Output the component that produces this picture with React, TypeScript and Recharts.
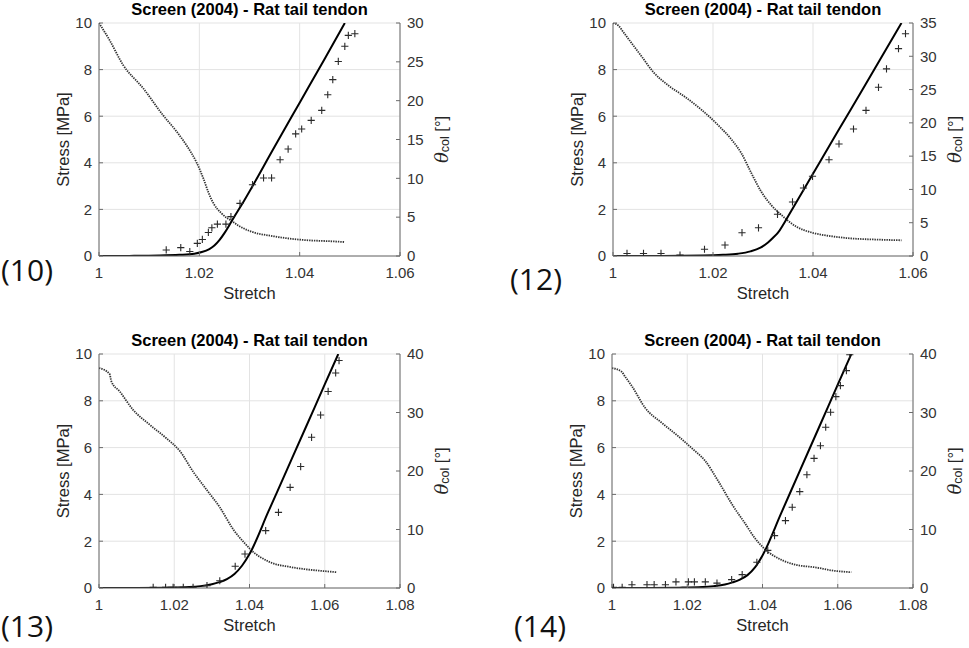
import React from 'react';
import { ComposedChart, Line, Scatter, XAxis, YAxis, CartesianGrid } from 'recharts';

type Pair = [number, number];

// ---------- data (stretch, value) ----------
const p10Model: Pair[] = [[1, 0], [1.006, 0.005], [1.012, 0.02], [1.016, 0.05], [1.019, 0.1], [1.0205, 0.17], [1.022, 0.3], [1.023, 0.45], [1.024, 0.68], [1.025, 0.98], [1.026, 1.33], [1.027, 1.7], [1.0281, 2.08], [1.035, 4.69], [1.04, 6.58], [1.045, 8.47], [1.049, 10]];
const p10Exp: Pair[] = [[1.0134, 0.26], [1.0163, 0.36], [1.0181, 0.19], [1.0196, 0.54], [1.0206, 0.71], [1.0218, 1.01], [1.0225, 1.21], [1.0236, 1.37], [1.0253, 1.37], [1.0263, 1.69], [1.0281, 2.26], [1.0306, 3.06], [1.0328, 3.35], [1.0344, 3.35], [1.0361, 4.13], [1.0377, 4.59], [1.0392, 5.24], [1.0404, 5.45], [1.0423, 5.82], [1.0444, 6.25], [1.0456, 6.92], [1.0466, 7.57], [1.0477, 8.35], [1.049, 9.0], [1.0497, 9.47], [1.051, 9.54]];
const p10Theta: Pair[] = [[1.0, 30], [1.0021, 27.8], [1.0048, 24.6], [1.0088, 21.6], [1.0128, 18.1], [1.0155, 16.0], [1.0175, 14.2], [1.0194, 12.1], [1.0208, 10.0], [1.0218, 8.2], [1.0228, 6.8], [1.0244, 5.5], [1.0267, 4.4], [1.0281, 3.8], [1.0301, 3.2], [1.0348, 2.54], [1.0401, 2.1], [1.0467, 1.88], [1.049, 1.8]];

const p12Model: Pair[] = [[1, 0], [1.01, 0.005], [1.018, 0.02], [1.022, 0.05], [1.025, 0.1], [1.0275, 0.2], [1.0295, 0.36], [1.031, 0.58], [1.032, 0.78], [1.033, 1.0], [1.034, 1.33], [1.035, 1.7], [1.04, 3.53], [1.045, 5.36], [1.05, 7.18], [1.0577, 10]];
const p12Exp: Pair[] = [[1.0028, 0.11], [1.0061, 0.11], [1.0096, 0.11], [1.0134, 0.04], [1.0183, 0.29], [1.0224, 0.47], [1.0258, 1.0], [1.0291, 1.21], [1.0329, 1.79], [1.0359, 2.32], [1.0381, 2.92], [1.0399, 3.42], [1.0432, 4.13], [1.0452, 4.81], [1.0481, 5.45], [1.0506, 6.25], [1.0531, 7.24], [1.0547, 8.03], [1.0571, 8.9], [1.0585, 9.54]];
const p12Theta: Pair[] = [[1.0, 35], [1.0011, 34.6], [1.0021, 33.6], [1.0038, 31.9], [1.0058, 29.9], [1.0081, 27.6], [1.0111, 25.6], [1.0144, 23.9], [1.0178, 21.9], [1.0211, 19.6], [1.0238, 17.4], [1.0257, 15.4], [1.0277, 12.4], [1.0297, 9.6], [1.0317, 7.6], [1.0334, 6.35], [1.0367, 4.4], [1.0401, 3.45], [1.0434, 3.0], [1.0467, 2.7], [1.0534, 2.45], [1.0577, 2.36]];

const p13Model: Pair[] = [[1, 0], [1.01, 0.005], [1.018, 0.015], [1.024, 0.04], [1.027, 0.08], [1.03, 0.16], [1.032, 0.25], [1.034, 0.38], [1.036, 0.6], [1.038, 0.95], [1.04, 1.45], [1.045, 3.26], [1.05, 5.07], [1.055, 6.88], [1.06, 8.7], [1.0636, 10]];
const p13Exp: Pair[] = [[1.0144, 0.03], [1.0177, 0.03], [1.0197, 0.03], [1.0224, 0.03], [1.025, 0.03], [1.0287, 0.1], [1.0321, 0.31], [1.0362, 0.93], [1.0388, 1.45], [1.0443, 2.45], [1.0477, 3.23], [1.0508, 4.3], [1.0536, 5.19], [1.0565, 6.44], [1.0589, 7.39], [1.0609, 8.4], [1.0629, 9.19], [1.0638, 9.72]];
const p13Theta: Pair[] = [[1.0, 37.6], [1.0028, 36.6], [1.0033, 35.3], [1.0055, 33.6], [1.009, 30.5], [1.0135, 27.9], [1.0179, 25.6], [1.0215, 23.4], [1.025, 19.9], [1.0286, 16.8], [1.0321, 13.8], [1.0357, 10.0], [1.0388, 7.6], [1.0401, 6.7], [1.0455, 4.4], [1.0507, 3.6], [1.0543, 3.25], [1.0596, 2.9], [1.0632, 2.7]];

const p14Model: Pair[] = [[1, 0], [1.01, 0.005], [1.018, 0.015], [1.024, 0.04], [1.027, 0.08], [1.03, 0.15], [1.032, 0.24], [1.034, 0.36], [1.036, 0.55], [1.038, 0.88], [1.04, 1.39], [1.045, 3.21], [1.05, 5.04], [1.055, 6.86], [1.06, 8.69], [1.0636, 10]];
const p14Exp: Pair[] = [[1.0004, 0.03], [1.0027, 0.03], [1.0053, 0.14], [1.0093, 0.14], [1.0112, 0.14], [1.0142, 0.14], [1.017, 0.26], [1.0203, 0.26], [1.0219, 0.26], [1.0248, 0.26], [1.0279, 0.21], [1.0318, 0.36], [1.0346, 0.57], [1.0385, 1.1], [1.0414, 1.61], [1.0432, 2.24], [1.0461, 2.88], [1.0479, 3.45], [1.0499, 4.12], [1.0518, 4.84], [1.0537, 5.54], [1.0554, 6.08], [1.0568, 6.87], [1.0581, 7.51], [1.0595, 8.18], [1.0607, 8.65], [1.0623, 9.29], [1.0632, 9.97]];
const p14Theta: Pair[] = [[1.0, 37.6], [1.0025, 37.0], [1.0034, 36.2], [1.0053, 34.5], [1.0088, 30.8], [1.0133, 28.2], [1.0177, 25.9], [1.0212, 23.9], [1.0248, 21.7], [1.0283, 18.2], [1.0322, 14.0], [1.0354, 11.0], [1.038, 8.5], [1.0406, 6.67], [1.0455, 4.67], [1.0486, 4.0], [1.0543, 3.5], [1.0584, 3.0], [1.0636, 2.7]];

const xTicksTop = [1, 1.02, 1.04, 1.06];
const xTicksBottom = [1, 1.02, 1.04, 1.06, 1.08];
const stressTicks = [0, 2, 4, 6, 8, 10];
const thetaTicks10 = [0, 5, 10, 15, 20, 25, 30];
const thetaTicks12 = [0, 5, 10, 15, 20, 25, 30, 35];
const thetaTicks13 = [0, 10, 20, 30, 40];

const titleText = 'Screen (2004) - Rat tail tendon';
const panelNames = ['(10)', '(12)', '(13)', '(14)'];

// ---------- helpers ----------
const toRows = (pairs: Pair[]) => pairs.map(([x, y]) => ({ x, y }));
const fmtX = (v: number) => String(Number(v.toFixed(2)));

const SANS = '"Liberation Sans", Arial, Helvetica, sans-serif';
const AXIS = '#6b6b6b';
const TXT = '#262626';

const PlusShape = (props: any) => {
  const { cx, cy } = props;
  if (cx == null || cy == null) return null;
  const h = 3.6;
  return (
    <path
      d={`M${cx - h},${cy}H${cx + h}M${cx},${cy - h}V${cy + h}`}
      stroke="#2a2a2a"
      strokeWidth={1.1}
      fill="none"
    />
  );
};

const LeftLabel = (props: any) => {
  const vb = props.viewBox || {};
  const cx = vb.x + vb.width - 36;
  const cy = vb.y + vb.height / 2;
  return (
    <text x={cx} y={cy} transform={`rotate(-90 ${cx} ${cy})`} textAnchor="middle" dominantBaseline="central" fontSize={16.5} fill={TXT} fontFamily={SANS}>
      Stress [MPa]
    </text>
  );
};

const RightLabel = (props: any) => {
  const vb = props.viewBox || {};
  const cx = vb.x + 41;
  const cy = vb.y + vb.height / 2;
  return (
    <text x={cx} y={cy} transform={`rotate(-90 ${cx} ${cy})`} textAnchor="middle" dominantBaseline="central" fontSize={16.5} fill={TXT} fontFamily={SANS}>
      <tspan fontStyle="italic" fontFamily='"DejaVu Serif", "Liberation Serif", serif' fontSize={18}>θ</tspan>
      <tspan fontSize={12.5} dy={4}>col</tspan>
      <tspan dy={-4}> [°]</tspan>
    </text>
  );
};

const BottomLabel = (props: any) => {
  const vb = props.viewBox || {};
  const cx = vb.x + vb.width / 2;
  const cy = vb.y + 37;
  return (
    <text x={cx} y={cy} textAnchor="middle" dominantBaseline="central" fontSize={16.5} fill={TXT} fontFamily={SANS}>
      Stretch
    </text>
  );
};

type PanelProps = {
  left: number;
  top: number;
  width: number;
  height: number;
  margin: { top: number; right: number; bottom: number; left: number };
  model: Pair[];
  exp: Pair[];
  theta: Pair[];
  xTicks: number[];
  thetaTicks: number[];
};

const tickStyle = { fontSize: 15, fill: '#333', fontFamily: SANS };

const Panel = (p: PanelProps) => {
  const xMax = p.xTicks[p.xTicks.length - 1];
  const tMax = p.thetaTicks[p.thetaTicks.length - 1];
  return (
    <div style={{ position: 'absolute', left: p.left, top: p.top, width: p.width, height: p.height }}>
      <ComposedChart width={p.width} height={p.height} margin={p.margin}>
        <CartesianGrid yAxisId="left" stroke="#e3e3e3" strokeWidth={1} />
        <XAxis
          type="number"
          dataKey="x"
          domain={[1, xMax]}
          ticks={p.xTicks}
          interval={0}
          allowDataOverflow
          tickFormatter={fmtX}
          height={30}
          tickSize={-4}
          tickMargin={15}
          tick={tickStyle}
          axisLine={{ stroke: AXIS }}
          tickLine={{ stroke: AXIS }}
          label={<BottomLabel />}
        />
        <YAxis
          yAxisId="left"
          type="number"
          domain={[0, 10]}
          ticks={stressTicks}
          interval={0}
          allowDataOverflow
          width={40}
          tickSize={-4}
          tickMargin={11}
          tick={tickStyle}
          axisLine={{ stroke: AXIS }}
          tickLine={{ stroke: AXIS }}
          label={<LeftLabel />}
        />
        <YAxis
          yAxisId="right"
          orientation="right"
          type="number"
          domain={[0, tMax]}
          ticks={p.thetaTicks}
          interval={0}
          allowDataOverflow
          width={40}
          tickSize={-4}
          tickMargin={11}
          tick={tickStyle}
          axisLine={{ stroke: AXIS }}
          tickLine={{ stroke: AXIS }}
          label={<RightLabel />}
        />
        <Line
          yAxisId="right"
          data={toRows(p.theta)}
          dataKey="y"
          type="monotone"
          stroke="#333"
          strokeWidth={1.8}
          strokeDasharray="1.4 1"
          dot={false}
          activeDot={false}
          isAnimationActive={false}
        />
        <Line
          yAxisId="left"
          data={toRows(p.model)}
          dataKey="y"
          type="monotone"
          stroke="#000"
          strokeWidth={2}
          dot={false}
          activeDot={false}
          isAnimationActive={false}
        />
        <Scatter
          yAxisId="left"
          data={toRows(p.exp)}
          dataKey="y"
          shape={PlusShape}
          isAnimationActive={false}
        />
      </ComposedChart>
    </div>
  );
};

const panels = [
  { left: 0, top: 0, width: 484, height: 320, margin: { top: 23, left: 59, right: 44, bottom: 34 }, model: p10Model, exp: p10Exp, theta: p10Theta, xTicks: xTicksTop, thetaTicks: thetaTicks10 },
  { left: 485, top: 0, width: 484, height: 320, margin: { top: 23, left: 88, right: 16, bottom: 34 }, model: p12Model, exp: p12Exp, theta: p12Theta, xTicks: xTicksTop, thetaTicks: thetaTicks12 },
  { left: 0, top: 325, width: 484, height: 323, margin: { top: 29, left: 59, right: 44, bottom: 30 }, model: p13Model, exp: p13Exp, theta: p13Theta, xTicks: xTicksBottom, thetaTicks: thetaTicks13 },
  { left: 485, top: 325, width: 484, height: 323, margin: { top: 29, left: 87, right: 16, bottom: 30 }, model: p14Model, exp: p14Exp, theta: p14Theta, xTicks: xTicksBottom, thetaTicks: thetaTicks13 },
];

const titlePos = [
  { x: 249.5, y: 9 },
  { x: 763, y: 9 },
  { x: 249.5, y: 340 },
  { x: 762.5, y: 340 },
];
const namePos = [
  { x: 1, y: 281 },
  { x: 510, y: 290 },
  { x: 1, y: 637 },
  { x: 514, y: 637 },
];

export default function App() {
  return (
    <div style={{ position: 'absolute', left: 0, top: 0, width: 969, height: 648, background: '#fff', overflow: 'hidden' }}>
      {panels.map((p, i) => (
        <Panel key={i} {...p} />
      ))}
      <svg width={969} height={648} style={{ position: 'absolute', left: 0, top: 0, pointerEvents: 'none' }}>
        {titlePos.map((t, i) => (
          <text key={'t' + i} x={t.x} y={t.y} textAnchor="middle" dominantBaseline="central" fontSize={16.5} fontWeight="bold" fill="#000" fontFamily={SANS}>
            {titleText}
          </text>
        ))}
        {namePos.map((n, i) => (
          <text key={'n' + i} x={n.x} y={n.y} fontSize={30} fill="#111" fontFamily='"Open Sans", "Noto Sans", sans-serif'>
            {panelNames[i]}
          </text>
        ))}
      </svg>
    </div>
  );
}
